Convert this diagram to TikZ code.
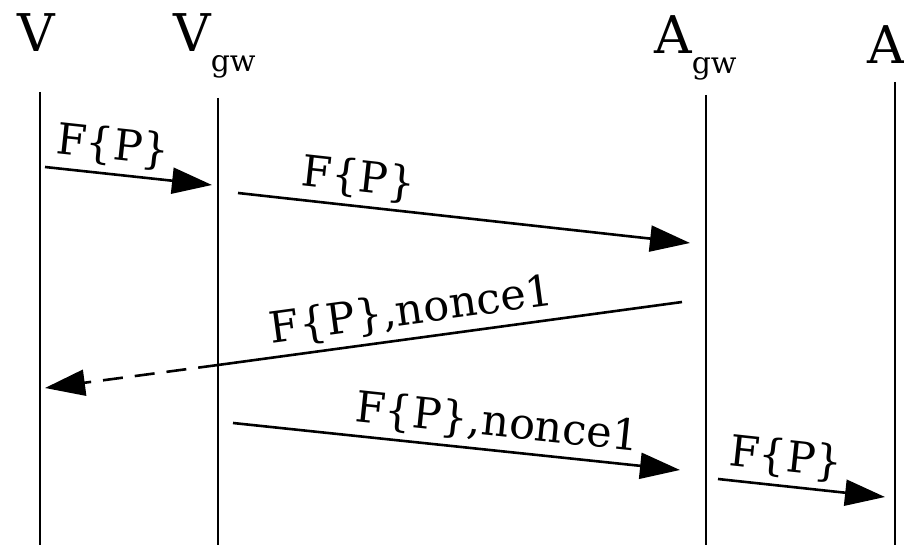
\documentclass[tikz,border=0pt]{standalone}
\usepackage{fontspec}
\setmainfont{DejaVu Serif}
\usetikzlibrary{arrows.meta}

\newcommand{\gwsub}{\raisebox{-20pt}{\fontsize{30}{36}\selectfont gw}}

\begin{document}
\begin{tikzpicture}[
  x=1pt, y=-1pt,
  >={Triangle[length=40pt,width=26pt]},
  actor/.style={font=\fontsize{52}{60}\selectfont, inner sep=0pt, anchor=base west},
  life/.style={line width=1.4pt},
  msg/.style={line width=2.6pt},
  lbl/.style={font=\fontsize{43}{50}\selectfont, sloped, above, inner sep=6pt}
]
\useasboundingbox (0,0) rectangle (904,553);

% ===== Actors =====
\node[actor] (hV)   at (17,52)  {V};
\node[actor] (hVgw) at (173,52) {V\gwsub};
\node[actor] (hAgw) at (654,54) {A\gwsub};
\node[actor] (hA)   at (867,64) {A};

% ===== Lifelines =====
\coordinate (vT)   at (40,92);   \coordinate (vB)   at (40,545);
\coordinate (vgwT) at (218,98);  \coordinate (vgwB) at (218,545);
\coordinate (agwT) at (706,95);  \coordinate (agwB) at (706,545);
\coordinate (aT)   at (895,82);  \coordinate (aB)   at (895,545);

\draw[life] (vT) -- (vB);
\draw[life] (vgwT) -- (vgwB);
\draw[life] (agwT) -- (agwB);
\draw[life] (aT) -- (aB);

% ===== Messages =====
\coordinate (m1s) at (45,167);  \coordinate (m1e) at (212,185);
\coordinate (m2s) at (238,193); \coordinate (m2e) at (690,243);
\coordinate (m3s) at (682,302); \coordinate (m3c) at (218,365); \coordinate (m3e) at (45,388);
\coordinate (m4s) at (233,423); \coordinate (m4e) at (680,470);
\coordinate (m5s) at (718,479); \coordinate (m5e) at (885,497);

\draw[msg,->] (m1s) -- node[lbl, pos=0.39] {F\{P\}} (m1e);
\draw[msg,->] (m2s) -- node[lbl, pos=0.26] {F\{P\}} (m2e);
\draw[msg] (m3s) -- node[lbl, pos=0.575] {F\{P\},nonce1} (m3c);
\draw[msg,->,dash pattern=on 20pt off 12pt] (m3c) -- (m3e);
\draw[msg,->] (m4s) -- node[lbl, pos=0.585] {F\{P\},nonce1} (m4e);
\draw[msg,->] (m5s) -- node[lbl, pos=0.39] {F\{P\}} (m5e);

\end{tikzpicture}
\end{document}
